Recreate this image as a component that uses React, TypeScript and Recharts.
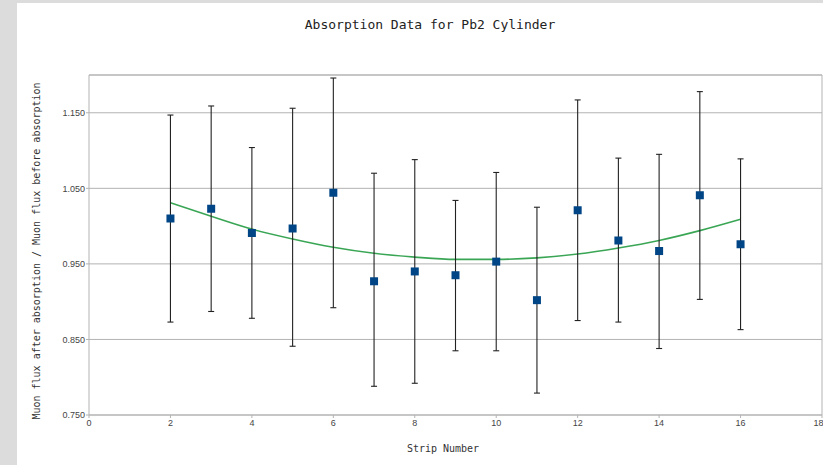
import {
  ComposedChart,
  CartesianGrid,
  ErrorBar,
  Line,
  ReferenceLine,
  Scatter,
  XAxis,
  YAxis,
} from "recharts";

const strips = [2, 3, 4, 5, 6, 7, 8, 9, 10, 11, 12, 13, 14, 15, 16];
const fluxRatio = [1.01, 1.023, 0.991, 0.997, 1.044, 0.927, 0.94, 0.935, 0.953, 0.902, 1.021, 0.981, 0.967, 1.041, 0.976];
const errLow = [0.137, 0.136, 0.113, 0.156, 0.152, 0.139, 0.148, 0.1, 0.118, 0.123, 0.146, 0.108, 0.129, 0.138, 0.113];
const errHigh = [0.137, 0.136, 0.113, 0.159, 0.152, 0.143, 0.148, 0.099, 0.118, 0.123, 0.146, 0.109, 0.128, 0.137, 0.113];
const fitLine = [1.031, 1.013, 0.996, 0.983, 0.972, 0.964, 0.959, 0.956, 0.956, 0.958, 0.963, 0.971, 0.981, 0.994, 1.009];

const xTicks = [0, 2, 4, 6, 8, 10, 12, 14, 16, 18];
const yTicks = [0.75, 0.85, 0.95, 1.05, 1.15];

const rows = strips.map((x, i) => ({
  x,
  y: fluxRatio[i],
  err: [errLow[i], errHigh[i]],
  fit: fitLine[i],
}));

const mono = "'DejaVu Sans Mono', 'Liberation Mono', monospace";
const tickStyle = { fontFamily: "'Liberation Sans', Arial, sans-serif", fontSize: 9, fill: "#444" };

export default function App() {
  return (
    <div style={{ position: "absolute", left: 0, top: 0, width: 823, height: 465, background: "#dcdcdc", overflow: "hidden" }}>
      <div style={{ position: "absolute", left: 17, top: 3, width: 806, height: 462, background: "#fff" }} />
      <div
        style={{
          position: "absolute",
          left: 0,
          top: 17,
          width: 860,
          textAlign: "center",
          fontFamily: mono,
          fontSize: 13,
          color: "#222",
        }}
      >
        Absorption Data for Pb2 Cylinder
      </div>
      <div
        style={{
          position: "absolute",
          left: 36,
          top: 251,
          transform: "translate(-50%, -50%) rotate(-90deg)",
          whiteSpace: "nowrap",
          fontFamily: mono,
          fontSize: 10,
          color: "#333",
        }}
      >
        Muon flux after absorption / Muon flux before absorption
      </div>
      <div
        style={{
          position: "absolute",
          left: 443,
          top: 443,
          transform: "translateX(-50%)",
          whiteSpace: "nowrap",
          fontFamily: mono,
          fontSize: 10,
          color: "#333",
        }}
      >
        Strip Number
      </div>
      <div style={{ position: "absolute", left: 0, top: 0 }}>
        <ComposedChart width={823} height={465} data={rows} margin={{ top: 75, right: 1, bottom: 20, left: 29 }}>
          <CartesianGrid vertical={false} stroke="#b3b3b3" />
          <XAxis
            type="number"
            dataKey="x"
            domain={[0, 18]}
            ticks={xTicks}
            height={30}
            tick={tickStyle}
            tickSize={3}
            tickMargin={2}
            stroke="#b3b3b3"
          />
          <YAxis
            type="number"
            domain={[0.75, 1.2]}
            ticks={yTicks}
            width={60}
            allowDataOverflow
            tick={tickStyle}
            tickFormatter={(v: number) => v.toFixed(3)}
            tickSize={3}
            tickMargin={1}
            stroke="#b3b3b3"
          />
          <ReferenceLine y={1.2} stroke="#b3b3b3" />
          <ReferenceLine x={18} stroke="#b3b3b3" />
          <Line
            type="monotone"
            dataKey="fit"
            stroke="#3aa655"
            strokeWidth={1.6}
            dot={false}
            isAnimationActive={false}
          />
          <Scatter dataKey="y" fill="#004586" shape="square" isAnimationActive={false}>
            <ErrorBar dataKey="err" direction="y" width={3} stroke="#222" strokeWidth={1.1} />
          </Scatter>
        </ComposedChart>
      </div>
    </div>
  );
}
